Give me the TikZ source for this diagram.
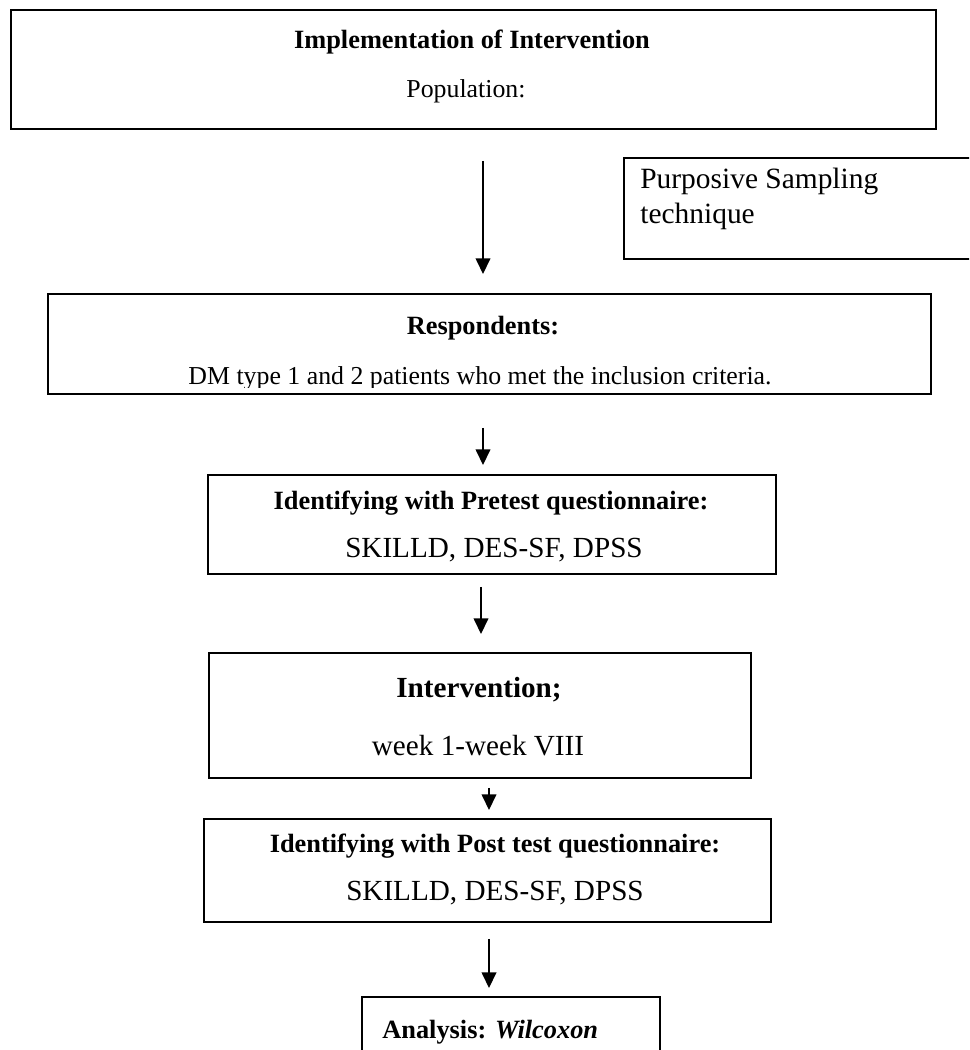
\documentclass[tikz,border=0pt]{standalone}
\usepackage{fontspec}
\setmainfont{Liberation Serif}
\usetikzlibrary{arrows.meta}

\def\px{0.02cm}

\begin{document}
\begin{tikzpicture}[x=\px, y=-\px, >={Triangle[length=8.9pt,width=8.4pt]},
    flowbox/.style={draw, line width=1.1pt, inner sep=0pt, anchor=north west},
    flowarrow/.style={->, line width=0.75pt},
    headtxt/.style={font=\bfseries\fontsize{15}{18}\selectfont, anchor=base, inner sep=0pt},
    toptxt/.style={font=\fontsize{14.7}{17}\selectfont, anchor=base, inner sep=0pt},
    bodytxt/.style={font=\fontsize{16.6}{20}\selectfont, anchor=base, inner sep=0pt}]
    \useasboundingbox (0,0) rectangle (969,1050);
    \clip (0,0) rectangle (969,1050);
    % =========================
    % boxes
    \node[flowbox, minimum width=925*\px, minimum height=119*\px] (impl) at (10,9) {};
    \node[flowbox, minimum width=400*\px, minimum height=101*\px] (purp) at (623,157) {};
    \node[flowbox, minimum width=883*\px, minimum height=100*\px] (resp) at (47,293) {};
    \node[flowbox, minimum width=568*\px, minimum height=99*\px] (pre) at (207,474) {};
    \node[flowbox, minimum width=542*\px, minimum height=125*\px] (intv) at (208,652) {};
    \node[flowbox, minimum width=567*\px, minimum height=103*\px] (post) at (203,818) {};
    \node[flowbox, minimum width=298*\px, minimum height=120*\px] (anal) at (361,996) {};

    % ===============================
    % texts
    \node[headtxt] (implT) at (472,49) {Implementation of Intervention};
    \node[toptxt] (implP) at (466,98) {Population:};
    \node[anchor=north west, align=left, inner sep=0pt,
          font=\fontsize{16.75}{20}\selectfont] (purpT) at (640,168) {Purposive Sampling\\technique};
    \node[headtxt] (respT) at (483,335) {Respondents:};
    \begin{scope}
        \clip (resp.north west) rectangle (930,387);
        \node[toptxt] (respD) at (480,384) {DM type 1 and 2 patients who met the inclusion criteria.};
    \end{scope}
    \node[headtxt] (preT) at (491,509) {Identifying with Pretest questionnaire:};
    \node[bodytxt] (preS) at (494,557) {SKILLD, DES-SF, DPSS};
    \node[headtxt, font=\bfseries\fontsize{16.6}{20}\selectfont] (intvT) at (479,697) {Intervention;};
    \node[bodytxt] (intvW) at (478,755) {week 1-week VIII};
    \node[headtxt] (postT) at (495,852) {Identifying with Post test questionnaire:};
    \node[bodytxt] (postS) at (495,900) {SKILLD, DES-SF, DPSS};
    \node[headtxt, anchor=base west] (analT) at (382,1038) {Analysis: \textit{Wilcoxon}};

    % ===============================
    % arrows
    \draw[flowarrow, shorten <=31*\px, shorten >=19*\px] (483,0 |- impl.south) -- (483,0 |- resp.north);
    \draw[flowarrow, shorten <=33*\px, shorten >=9*\px] (483,0 |- resp.south) -- (483,0 |- pre.north);
    \draw[flowarrow, shorten <=12*\px, shorten >=18*\px] (481,0 |- pre.south) -- (481,0 |- intv.north);
    \draw[flowarrow, shorten <=9*\px, shorten >=8*\px] (489,0 |- intv.south) -- (489,0 |- post.north);
    \draw[flowarrow, shorten <=16*\px, shorten >=8*\px] (489,0 |- post.south) -- (489,0 |- anal.north);
\end{tikzpicture}
\end{document}
